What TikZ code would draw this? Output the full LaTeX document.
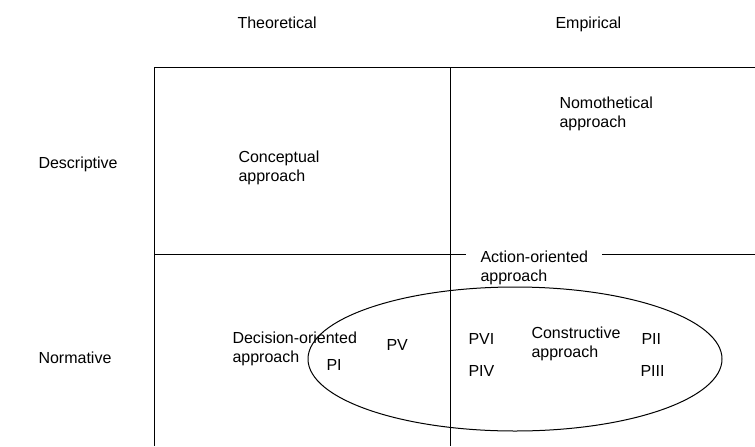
\documentclass[tikz,border=0pt]{standalone}
\usepackage{fontspec}
\setmainfont{Liberation Sans}

\tikzset{every picture/.style={line width=0.75pt}}
\tikzset{lbl/.style={anchor=north west,inner sep=0.75pt,align=left,font=\fontsize{12}{14.6}\selectfont}}

\begin{document}
\begin{tikzpicture}[x=0.75pt,y=0.75pt,yscale=-1,xscale=1]
	\useasboundingbox (0,0) rectangle (755,446);
	
	%Straight Lines top
	\draw    (154,67) -- (755,67) ;
	%Straight Lines left
	\draw    (154,67) -- (154,446) ;
	%Straight Lines middle
	\draw    (450,67) -- (450,446) ;
	%Straight Lines across, left part
	\draw    (154,254) -- (466,254) ;
	%Straight Lines across, right part
	\draw    (602,254) -- (755,254) ;
	%Shape: Ellipse
	\draw   (515,359) ellipse (207 and 72) ;
	
	% Text Node
	\draw (236,15) node [lbl] (theo) {Theoretical};
	% Text Node
	\draw (554,15) node [lbl] (emp) {Empirical};
	% Text Node
	\draw (37,155) node [lbl] (desc) {Descriptive};
	% Text Node
	\draw (37,350) node [lbl] (norm) {Normative};
	% Text Node
	\draw (237,149) node [lbl] (concept) {Conceptual\\approach};
	% Text Node
	\draw (558,95) node [lbl] (nomo) {Nomothetical\\approach};
	% Text Node
	\draw (479,249) node [lbl] (action) {Action-oriented\\approach};
	% Text Node
	\draw (231,330) node [lbl] (decision) {Decision-oriented\\approach};
	% Text Node
	\draw (530,325) node [lbl] (constr) {Constructive\\approach};
	% Text Node
	\draw (325,358) node [lbl] (pI) {PI};
	% Text Node
	\draw (385,338) node [lbl] (pV) {PV};
	% Text Node
	\draw (467,332) node [lbl] (pVI) {PVI};
	% Text Node
	\draw (467,364) node [lbl] (pIV) {PIV};
	% Text Node
	\draw (640,332) node [lbl] (pII) {PII};
	% Text Node
	\draw (639,364) node [lbl] (pIII) {PIII};
	
\end{tikzpicture}
\end{document}
